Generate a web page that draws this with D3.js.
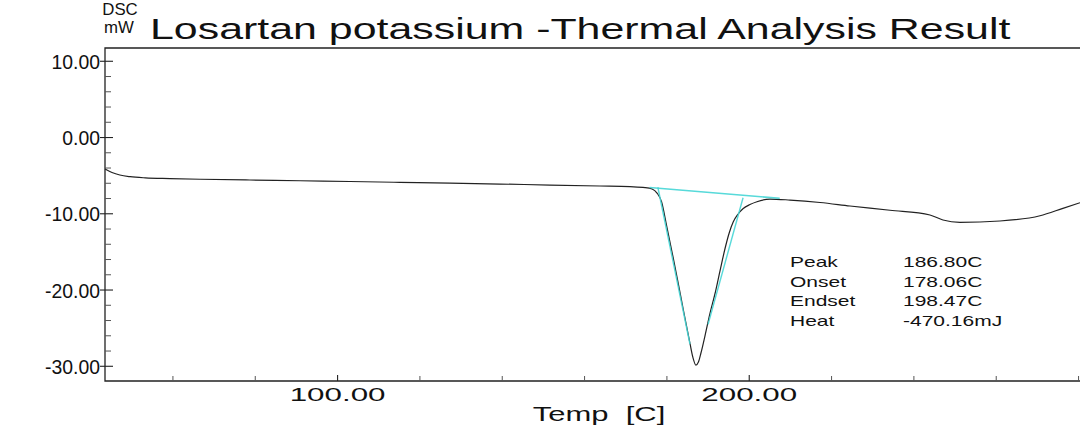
<!DOCTYPE html>
<html>
<head>
<meta charset="utf-8">
<script src="https://cdn.jsdelivr.net/npm/d3@7"></script>
<style>
  html, body { margin: 0; padding: 0; background: #ffffff; }
  svg { display: block; }
  text { font-family: "Liberation Sans", Arial, sans-serif; fill: #111; white-space: pre; }
</style>
</head>
<body>
<svg id="chart" width="1080" height="426"></svg>
<script>
// ---- data ----
const temp = [43.5, 45.2, 47.1, 49.6, 53.3, 59.3, 66.6, 78.7, 90.9, 103.0, 115.1, 127.3, 139.4, 151.6,
  163.7, 171.0, 174.7, 176.4, 177.6, 178.7, 179.9, 181.5, 182.6, 184.0, 185.6, 186.3, 187.05, 187.66,
  188.27, 189.24, 190.42, 191.72, 192.94, 194.15, 195.13, 196.10, 197.31, 198.54, 200.17, 201.87, 205.03,
  209.9, 217.2, 224.47, 234.19, 243.9, 247.06, 251.19, 260.9, 270.63, 276.2, 280.35];
const dsc = [-4.13, -4.59, -4.92, -5.14, -5.29, -5.38, -5.47, -5.57, -5.67, -5.77, -5.88, -5.97, -6.10, -6.23,
  -6.36, -6.45, -6.56, -6.75, -7.28, -8.42, -11.48, -15.7, -18.69, -22.62, -26.98, -28.8, -29.84, -29.44,
  -28.26, -26.03, -23.15, -20.39, -17.38, -14.49, -12.52, -11.08, -10.03, -9.31, -8.79, -8.42, -8.07,
  -8.20, -8.52, -8.98, -9.54, -10.16, -10.82, -11.12, -10.95, -10.26, -9.29, -8.55];

// analysis construction lines (cyan)
const baseTemp = [175.8, 207.4];
const baseDsc = [-6.56, -7.97];
const onsetTemp = [177.8, 185.6];
const onsetDsc = [-6.52, -27.1];
const endTemp = [198.5, 190.0];
const endDsc = [-7.9, -24.5];

// tick labels
const xMajorTicks = [100, 200];
const xMinorTicks = [60, 80, 120, 140, 160, 180, 220, 240, 260, 280];
const yMajorTicks = [10, 0, -10, -20, -30];
const yMinorTicks = [8, 6, 4, 2, -2, -4, -6, -8, -12, -14, -16, -18, -22, -24, -26, -28];

const resultLabels = ["Peak", "Onset", "Endset", "Heat"];
const resultValues = ["186.80C", "178.06C", "198.47C", "-470.16mJ"];

const titleText = "Losartan potassium -Thermal Analysis Result";
const xTitle = "Temp  [C]";
const yTitle = ["DSC", "mW"];

const xDomain = [43.5, 280.35];
const yDomain = [-31.93, 11.74];

// ---- drawing ----
const svg = d3.select("#chart");
const pL = 105, pR = 1080, pT = 48, pB = 381;
const x = d3.scaleLinear().domain(xDomain).range([pL, pR]);
const y = d3.scaleLinear().domain(yDomain).range([pB, pT]);
const fmt = v => d3.format(".2f")(v).replace("\u2212", "-");

function txt(px, py, s, size, anchor, sx) {
  return svg.append("text")
    .attr("transform", `translate(${px},${py}) scale(${sx},1)`)
    .attr("text-anchor", anchor)
    .attr("font-size", size)
    .text(s);
}

// frame
svg.append("path")
  .attr("d", `M${pR},${pT}H${pL}V${pB}H${pR}`)
  .attr("fill", "none").attr("stroke", "#222").attr("stroke-width", 1.3);

// y ticks
svg.selectAll(".ymaj").data(yMajorTicks).join("line")
  .attr("x1", pL - 5).attr("x2", pL + 8)
  .attr("y1", d => y(d)).attr("y2", d => y(d))
  .attr("stroke", "#222").attr("stroke-width", 1.1);
svg.selectAll(".ymin").data(yMinorTicks).join("line")
  .attr("x1", pL).attr("x2", pL + 6)
  .attr("y1", d => y(d)).attr("y2", d => y(d))
  .attr("stroke", "#555").attr("stroke-width", 1);
yMajorTicks.forEach(v => txt(pL - 5, y(v) + 7.5, fmt(v), 20, "end", 0.97));

// x ticks
svg.selectAll(".xmaj").data(xMajorTicks).join("line")
  .attr("x1", d => x(d)).attr("x2", d => x(d))
  .attr("y1", pB).attr("y2", pB - 6)
  .attr("stroke", "#222").attr("stroke-width", 1.1);
svg.selectAll(".xmin").data(xMinorTicks).join("line")
  .attr("x1", d => x(d)).attr("x2", d => x(d))
  .attr("y1", pB).attr("y2", pB - 5)
  .attr("stroke", "#555").attr("stroke-width", 1);
xMajorTicks.forEach(v => txt(x(v), 401, fmt(v), 18, "middle", 1.74));

// axis titles
txt(599, 421, xTitle, 20, "middle", 1.55);
txt(120, 15, yTitle[0], 16, "middle", 1.05);
txt(119, 33, yTitle[1], 16, "middle", 1.05);

// title
txt(150, 39, titleText, 30, "start", 1.43);

// curve
const pts = temp.map((t, i) => [t, dsc[i]]);
const line = d3.line().x(d => x(d[0])).y(d => y(d[1])).curve(d3.curveMonotoneX);
svg.append("path").datum(pts)
  .attr("d", line).attr("fill", "none")
  .attr("stroke", "#222").attr("stroke-width", 1.2);

// cyan construction lines
const cyan = "#45d6d6";
[[baseTemp, baseDsc], [onsetTemp, onsetDsc], [endTemp, endDsc]].forEach(([ts, vs], i) => {
  svg.append("line")
    .attr("x1", x(ts[0])).attr("y1", y(vs[0]))
    .attr("x2", x(ts[1])).attr("y2", y(vs[1]))
    .attr("stroke", cyan).attr("stroke-width", i === 0 ? 1.6 : 1.4).attr("opacity", 0.9);
});

// results table
resultLabels.forEach((s, i) => txt(790, 267 + i * 19.5, s, 14, "start", 1.5));
resultValues.forEach((s, i) => txt(903, 267 + i * 19.5, s, 14, "start", 1.5));
</script>
</body>
</html>
